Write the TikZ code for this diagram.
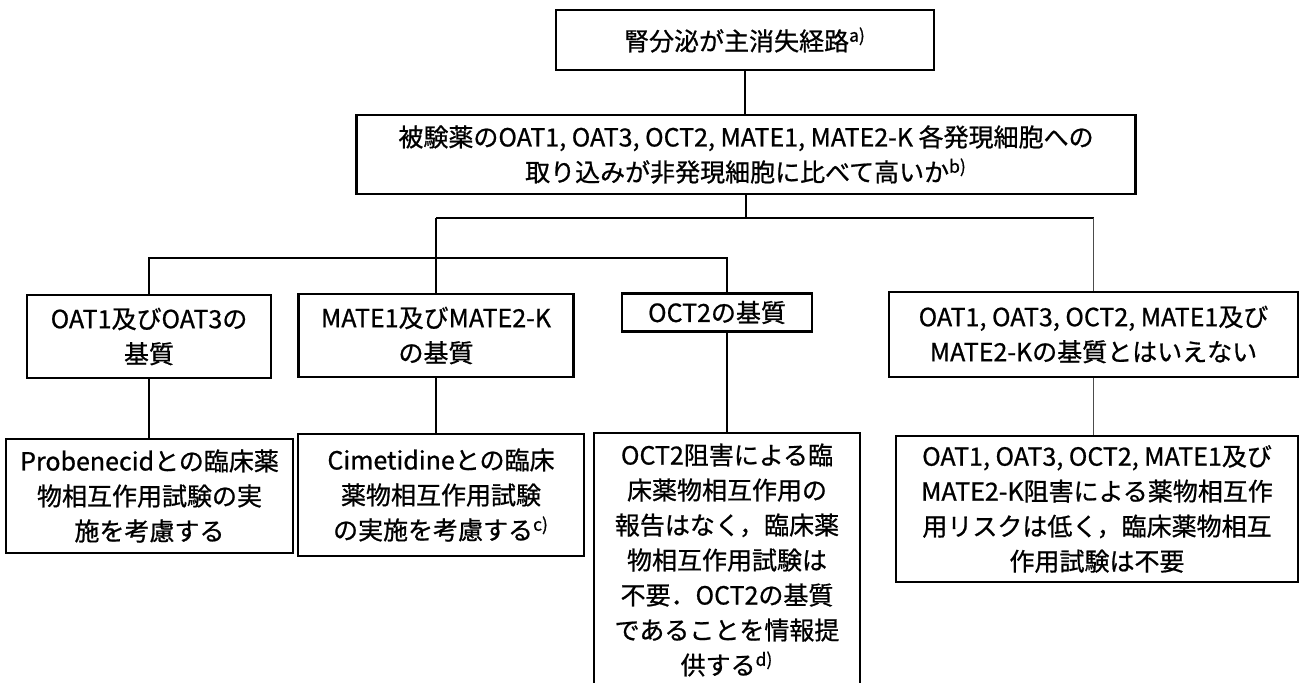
\documentclass[tikz,border=0pt]{standalone}
\usepackage{fontspec}
\setmainfont{Noto Sans CJK JP}[FakeBold=0.8]
\usetikzlibrary{calc}

\begin{document}
\begin{tikzpicture}[
x=0.5pt, y=-0.5pt,
box/.style={draw, line width=1.2pt, align=center, inner sep=2pt, font=\fontsize{12.5}{17.5}\selectfont},
link/.style={line width=0.8pt},
thin link/.style={line width=0.5pt, black!70},
]
	\useasboundingbox (0,0) rectangle (1301,683);
	% question boxes
	\node[box, minimum width=189pt, minimum height=30pt] (kidney) at (745,40) {腎分泌が主消失経路\textsuperscript{a)}};
	\node[box, minimum width=389.5pt, minimum height=39.5pt] (uptake) at (746,154.5)
		{被験薬のOAT1, OAT3, OCT2, MATE1, MATE2-K 各発現細胞への\\取り込みが非発現細胞に比べて高いか\textsuperscript{b)}};
	% substrate boxes
	\node[box, minimum width=122pt, minimum height=41.5pt] (oat) at (149,336.5) {OAT1及びOAT3の\\基質};
	\node[box, minimum width=137.5pt, minimum height=41.5pt] (mate) at (436,335.5) {MATE1及びMATE2-K\\の基質};
	\node[box, minimum width=95pt, minimum height=19pt] (oct) at (717,312.5) {OCT2の基質};
	\node[box, minimum width=204.5pt, minimum height=42.5pt] (none) at (1093.5,334.5)
		{OAT1, OAT3, OCT2, MATE1及び\\MATE2-Kの基質とはいえない};
	% result boxes
	\node[box, minimum width=143.5pt, minimum height=57pt] (probe) at (149.5,496)
		{Probenecidとの臨床薬\\物相互作用試験の実\\施を考慮する};
	\node[box, minimum width=143pt, minimum height=61pt] (cime) at (441,495)
		{Cimetidineとの臨床\\薬物相互作用試験\\の実施を考慮する\textsuperscript{c)}};
	\node[box, minimum width=133pt, minimum height=127pt] (octres) at (727,560)
		{OCT2阻害による臨\\床薬物相互作用の\\報告はなく，臨床薬\\物相互作用試験は\\不要．OCT2の基質\\であることを情報提\\供する\textsuperscript{d)}};
	\node[box, minimum width=201pt, minimum height=73pt] (noneres) at (1097,509)
		{OAT1, OAT3, OCT2, MATE1及び\\MATE2-K阻害による薬物相互作\\用リスクは低く，臨床薬物相互\\作用試験は不要};
	% junctions
	\coordinate (upper) at (746,218);
	\coordinate (lower) at (436,258);
	\coordinate (octin) at ($(oct.north)+(10,0)$);
	\coordinate (octout) at ($(oct.south)+(10,0)$);
	% connectors
	\draw[link] (kidney.south) -- (kidney.south |- uptake.north);
	\draw[link] (uptake.south) -- (uptake.south |- upper);
	\draw[link] (mate.north |- upper) -- (none.north |- upper);
	\draw[thin link] (none.north |- upper) -- (none.north);
	\draw[link] (mate.north |- upper) -- (mate.north);
	\draw[link] (oat.north) |- (lower) -| (octin);
	\draw[link] (oat.south) -- (oat.south |- probe.north);
	\draw[link] (mate.south) -- (mate.south |- cime.north);
	\draw[link] (octout) -- (octout |- octres.north);
	\draw[thin link] (none.south) -- (none.south |- noneres.north);
\end{tikzpicture}
\end{document}
